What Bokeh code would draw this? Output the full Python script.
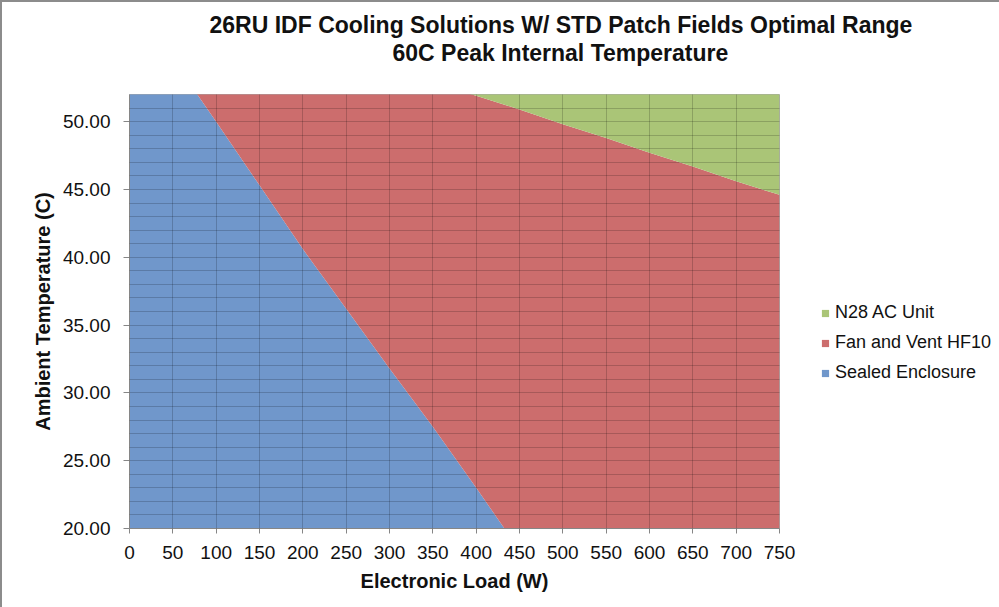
from bokeh.plotting import figure
from bokeh.models import Range1d, FixedTicker, Legend, LegendItem, Title, PrintfTickFormatter
from bokeh.embed import file_html
from bokeh.resources import INLINE

# ---- data ----
load_w = [0, 50, 100, 150, 200, 250, 300, 350, 400, 450, 500, 550, 600, 650, 700, 750]
sealed_top = [59.2, 54.6, 50.0, 45.3, 40.6, 36.2, 31.8, 27.5, 23.0, 18.4, 13.8, 9.2, 4.6, 0.0, 0.0, 0.0]
fan_top = [60.3, 59.2, 58.2, 57.1, 56.1, 55.0, 54.0, 52.9, 51.9, 50.9, 49.8, 48.8, 47.7, 46.7, 45.6, 44.6]
ac_top = [65.0, 65.0, 65.0, 65.0, 65.0, 65.0, 65.0, 65.0, 65.0, 65.0, 65.0, 65.0, 65.0, 65.0, 65.0, 65.0]
series_names = ["N28 AC Unit", "Fan and Vent HF10", "Sealed Enclosure"]
series_colors = ["#AAC577", "#CC6D6D", "#7097CB"]
x_ticks = [0, 50, 100, 150, 200, 250, 300, 350, 400, 450, 500, 550, 600, 650, 700, 750]
y_ticks = [20, 25, 30, 35, 40, 45, 50]
y_grid = list(range(20, 53))
title_line1 = "26RU IDF Cooling Solutions W/ STD Patch Fields Optimal Range"
title_line2 = "60C Peak Internal Temperature"

FONT = "Liberation Sans"

p = figure(frame_width=650, frame_height=434,
           min_border_left=127, min_border_right=220, min_border_top=92, min_border_bottom=79,
           x_range=Range1d(0, 750), y_range=Range1d(20, 52),
           output_backend="svg", toolbar_location=None)
p.styles = {"border-left": "2px solid #8c8c8c", "border-top": "2px solid #8c8c8c"}
p.background_fill_color = "white"
p.border_fill_color = "white"
p.outline_line_color = "#a6a6a6"

# areas
p.varea(x=load_w, y1=0, y2=sealed_top, fill_color=series_colors[2])
p.varea(x=load_w, y1=sealed_top, y2=fan_top, fill_color=series_colors[1])
p.varea(x=load_w, y1=fan_top, y2=ac_top, fill_color=series_colors[0])

# grids on top of areas
p.xgrid.ticker = FixedTicker(ticks=x_ticks)
p.ygrid.ticker = FixedTicker(ticks=y_grid)
for g in (p.xgrid, p.ygrid):
    g.grid_line_color = "#000000"
    g.grid_line_alpha = 0.18
    g.grid_line_width = 1
    g.level = "annotation"

# axes
p.xaxis.ticker = FixedTicker(ticks=x_ticks)
p.yaxis.ticker = FixedTicker(ticks=y_ticks)
p.yaxis.formatter = PrintfTickFormatter(format="%.2f")
for ax in (p.xaxis, p.yaxis):
    ax.axis_line_color = "#868686"
    ax.major_tick_line_color = "#868686"
    ax.minor_tick_line_color = None
    ax.major_tick_in = 0
    ax.major_label_text_font = FONT
    ax.major_label_text_font_size = "19px"
    ax.major_label_text_color = "#111111"
    ax.axis_label_text_font = FONT
    ax.axis_label_text_font_size = "20px"
    ax.axis_label_text_font_style = "bold"
    ax.axis_label_text_color = "#111111"
p.xaxis.major_tick_out = 5
p.yaxis.major_tick_out = 6
p.xaxis.major_label_standoff = 12
p.yaxis.major_label_standoff = 13
p.xaxis.axis_label = "Electronic Load (W)"
p.yaxis.axis_label = "Ambient Temperature (C)"
p.xaxis.axis_label_standoff = 8
p.yaxis.axis_label_standoff = 6

# legend proxies (single point from the data, outside the visible y-range)
proxies = []
for c in series_colors:
    proxies.append(p.scatter(x=load_w[:1], y=ac_top[:1], marker="square", size=7,
                             fill_color=c, line_color=None))
legend = Legend(items=[LegendItem(label=n, renderers=[r]) for n, r in zip(series_names, proxies)],
                location=(37, 145), glyph_width=18, glyph_height=18, label_height=20,
                spacing=9, padding=0, margin=22, border_line_color=None, background_fill_alpha=0,
                label_text_font=FONT, label_text_font_size="18px", label_text_color="#111111",
                label_standoff=1)
p.add_layout(legend, "right")

# title: a blank spacer panel next to the frame, then the two lines stacked above it
title_style = dict(text_font=FONT, text_font_size="23px", text_font_style="bold", text_color="#111111")
p.add_layout(Title(text=" ", align="left", standoff=1, **title_style), "above")
p.add_layout(Title(text=title_line2, align="left", offset=263, standoff=0, **title_style), "above")
p.add_layout(Title(text=title_line1, align="left", offset=80, standoff=0, **title_style), "above")

open("out.html", "w").write(file_html(p, INLINE))
